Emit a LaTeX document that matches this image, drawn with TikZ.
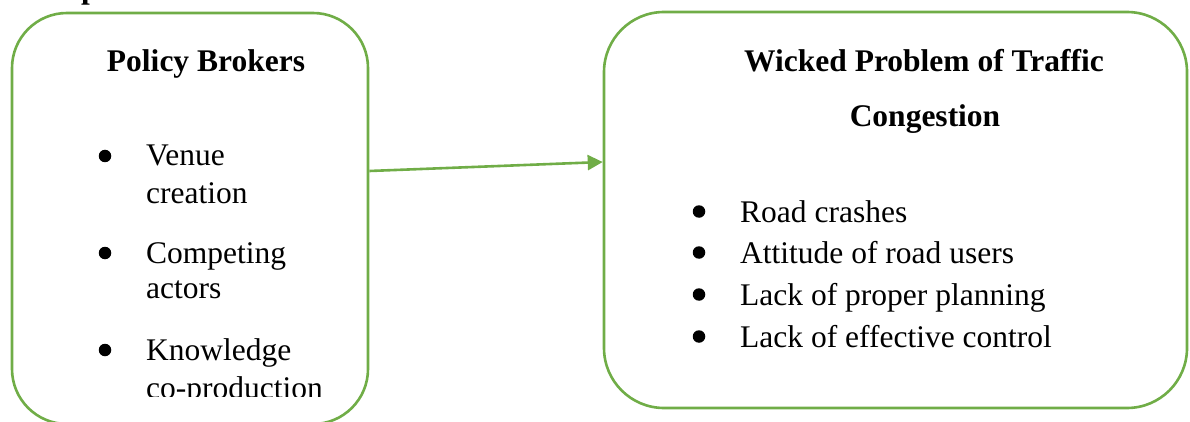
\documentclass[tikz,border=0pt]{standalone}
\usepackage{fontspec}
\setmainfont{Liberation Serif}
\usetikzlibrary{arrows.meta}
\definecolor{boxgreen}{HTML}{70AD47}
\tikzset{
  box/.style={draw=boxgreen, line width=2.6pt, inner sep=0pt},
  itemtext/.style={anchor=base west, inner sep=0pt, font=\fontsize{31.5}{36}\selectfont},
  titletext/.style={anchor=base, inner sep=0pt, font=\fontsize{31.5}{36}\selectfont\bfseries},
  dot/.style={circle, fill=black, inner sep=0pt, minimum size=12.5pt},
  link/.style={draw=boxgreen, line width=2.6pt, -{Triangle[length=15pt,width=15pt]}}
}
\begin{document}
\begin{tikzpicture}[x=1pt,y=-1pt]
\clip (0,0) rectangle (1190,422);
% partial heading glyph cut by the top edge
\node[anchor=base west, inner sep=0pt, font=\fontsize{31.5}{36}\selectfont\bfseries] (head) at (81,-1.5) {p};
% boxes
\node[box, rounded corners=55pt, minimum width=356pt, minimum height=411pt] (lb) at (190,218.5) {};
\node[box, rounded corners=60pt, minimum width=583pt, minimum height=396pt] (rb) at (895.5,210) {};
% arrow
\draw[link] ([yshift=47.5pt]lb.east) -- ([yshift=48pt]rb.west);
% left box content
\node[titletext] (lt) at (206,72) {Policy Brokers};
\begin{scope}
\clip (0,0) rectangle (1190,396);
\node[dot] (lb1) at (105,156) {};
\node[itemtext] (l1a) at (146,166) {Venue};
\node[itemtext] (l1b) at (146,203) {creation};
\node[dot] (lb2) at (105,253) {};
\node[itemtext] (l2a) at (146,263) {Competing};
\node[itemtext] (l2b) at (146,298) {actors};
\node[dot] (lb3) at (105,350) {};
\node[itemtext] (l3a) at (146,360) {Knowledge};
\node[itemtext] (l3b) at (146,398) {co-production};
\end{scope}
% right box content
\node[titletext] (rt1) at (924,72) {Wicked Problem of Traffic};
\node[titletext] (rt2) at (925,127) {Congestion};
\node[dot] (rb1) at (699,211.5) {};
\node[itemtext] (r1) at (740,222) {Road crashes};
\node[dot] (rb2) at (699,252.5) {};
\node[itemtext] (r2) at (740,263) {Attitude of road users};
\node[dot] (rb3) at (699,294.5) {};
\node[itemtext] (r3) at (740,305) {Lack of proper planning};
\node[dot] (rb4) at (699,336.5) {};
\node[itemtext] (r4) at (740,347) {Lack of effective control};
\end{tikzpicture}
\end{document}
